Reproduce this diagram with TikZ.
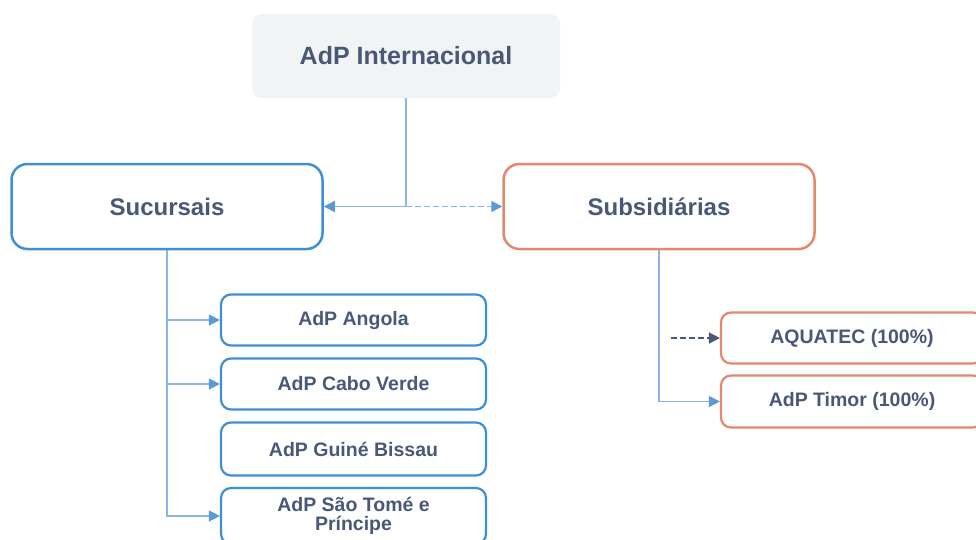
\documentclass[tikz,border=0pt]{standalone}
\usepackage{fontspec}
\setmainfont{Liberation Sans}
\usepackage{tikz}
\usetikzlibrary{positioning, arrows.meta, calc}

\definecolor{txtblue}{HTML}{4A5878}
\definecolor{boxblue}{HTML}{3F8FD4}
\definecolor{boxorange}{HTML}{E5876C}
\definecolor{linkblue}{HTML}{8DB4E2}
\definecolor{tipblue}{HTML}{5B9BD5}
\definecolor{topgray}{HTML}{F2F3F5}

\begin{document}
\begin{tikzpicture}[
    x=1pt, y=-1pt,
    topbox/.style={rectangle, rounded corners=10pt, fill=topgray, draw=none,
                   minimum width=308pt, minimum height=84pt,
                   font=\fontsize{25}{28}\selectfont\bfseries, text=txtblue},
    bluebox/.style={rectangle, rounded corners=16pt, draw=boxblue, line width=2.5pt,
                    fill=white, minimum width=311pt, minimum height=85pt,
                    font=\fontsize{24}{28}\selectfont\bfseries, text=txtblue},
    orangebox/.style={bluebox, draw=boxorange},
    childbox/.style={rectangle, rounded corners=10pt, draw=boxblue, line width=2.2pt,
                     fill=white, minimum width=265pt, minimum height=51pt, align=center,
                     font=\fontsize{19.5}{22}\selectfont\bfseries, text=txtblue},
    subbox/.style={childbox, draw=boxorange, minimum width=262pt},
    link/.style={draw=linkblue, line width=1.4pt},
    arrow/.style={link, -{Triangle[length=11pt, width=11pt, color=tipblue, fill=tipblue]}},
    dasharrow/.style={draw=txtblue, line width=1.6pt, dash pattern=on 6pt off 3pt,
                      -{Triangle[length=11pt, width=11pt, fill=txtblue]}}
]

    \useasboundingbox (0,0) rectangle (976,539);
    \clip (0,0) rectangle (976,539);

    % Top
    \node[topbox] (intl) at (406, 56) {AdP Internacional};

    % Main branches
    \node[bluebox] (sucursais) at (167, 206.5) {Sucursais};
    \node[orangebox] (subsid) at (659, 206.5) {Subsidiárias};

    % Sucursais
    \node[childbox] (angola) at (353.5, 320) {AdP Angola};
    \node[childbox] (cabo) at (353.5, 384) {AdP Cabo Verde};
    \node[childbox, minimum height=53pt] (guine) at (353.5, 449) {AdP Guiné Bissau};
    \node[childbox, minimum height=56pt] (stome) at (353.5, 516)
        {AdP São Tomé e\\[-3pt]Príncipe};

    % Subsidiarias
    \node[subbox] (aquatec) at (852, 338) {AQUATEC (100\%)};
    \node[subbox, minimum height=52pt] (timor) at (852, 401.5) {AdP Timor (100\%)};

    % Links from the top
    \draw[link] (intl.south) -- (intl.south |- sucursais.east) coordinate (hub);
    \draw[arrow] (hub) -- (sucursais.east);
    \draw[arrow, dash pattern=on 6pt off 3pt] (hub) -- (subsid.west);

    % Left tree
    \draw[arrow] (sucursais.south) |- (angola.west);
    \draw[arrow] (sucursais.south) |- (cabo.west);
    \draw[arrow] (sucursais.south) |- (stome.west);

    % Right tree
    \draw[arrow] (subsid.south) |- (timor.west);
    \coordinate (aqjoin) at (subsid.south |- aquatec.west);
    \draw[dasharrow] ($(aqjoin)+(12,0)$) -- (aquatec.west);

\end{tikzpicture}
\end{document}
